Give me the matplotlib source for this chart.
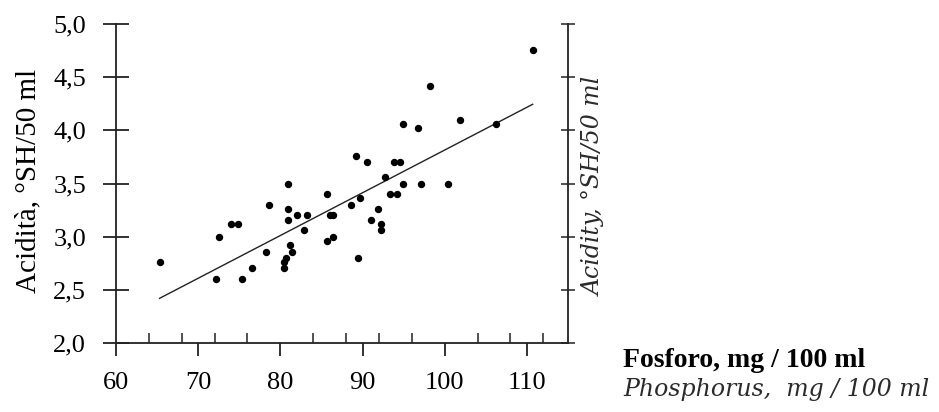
import matplotlib
matplotlib.use("Agg")
import matplotlib.pyplot as plt
from matplotlib.ticker import FixedLocator, MultipleLocator, FuncFormatter

# Data
phosphorus = [65.3, 72.2, 72.5, 74.0, 74.9, 75.3, 76.6, 78.3, 78.6, 80.5,
              80.5, 80.7, 80.9, 80.9, 80.9, 81.2, 81.4, 82.0, 82.9, 83.3,
              85.7, 85.7, 86.0, 86.4, 86.4, 88.6, 89.2, 89.4, 89.7, 90.5,
              91.0, 91.9, 92.3, 92.3, 92.7, 93.3, 93.8, 94.2, 94.6, 94.9,
              94.9, 96.7, 97.1, 98.2, 100.4, 101.9, 106.2, 110.7]
acidity = [2.76, 2.60, 3.00, 3.12, 3.12, 2.60, 2.71, 2.86, 3.30, 2.71,
           2.76, 2.80, 3.50, 3.26, 3.16, 2.92, 2.86, 3.20, 3.06, 3.20,
           3.40, 2.96, 3.20, 3.20, 3.00, 3.30, 3.76, 2.80, 3.36, 3.70,
           3.16, 3.26, 3.12, 3.06, 3.56, 3.40, 3.70, 3.40, 3.70, 4.06,
           3.50, 4.02, 3.50, 4.42, 3.50, 4.10, 4.06, 4.76]
trend_x = [65.3, 110.7]
trend_y = [2.42, 4.245]
x_major_ticks = [60, 70, 80, 90, 100, 110]
y_ticks = [2.0, 2.5, 3.0, 3.5, 4.0, 4.5, 5.0]

plt.rcParams['font.family'] = ['Liberation Serif', 'DejaVu Serif']

fig = plt.figure(figsize=(9.39, 4.12), dpi=100)
ax = fig.add_axes([116/939, 1-343/412, (568-116)/939, (343-24)/412])

ax.plot(trend_x, trend_y, color='#222222', lw=1.0, zorder=2)
ax.plot(phosphorus, acidity, 'o', color='black', ms=4.3, zorder=3)

ax.set_xlim(60, 115)
ax.set_ylim(2.0, 5.0)

ax.spines['top'].set_visible(False)
ax.spines['right'].set_visible(False)
for s in ['left', 'bottom']:
    ax.spines[s].set_linewidth(1.3)
    ax.spines[s].set_color('#222222')

ax.xaxis.set_major_locator(FixedLocator(x_major_ticks))
ax.xaxis.set_minor_locator(MultipleLocator(4))
ax.tick_params(axis='x', which='major', direction='out', length=9, width=1.3,
               color='#222222', labelsize=19, pad=12)
ax.tick_params(axis='x', which='minor', direction='in', length=7, width=1.1,
               color='#222222')

ax.yaxis.set_major_locator(FixedLocator(y_ticks))
ax.yaxis.set_major_formatter(FuncFormatter(lambda v, p: f"{v:.1f}".replace('.', ',')))
ax.tick_params(axis='y', which='major', direction='inout', length=19, width=1.3,
               color='#222222', labelsize=19, pad=12)

fig.text(28/939, 1-181/412, 'Acidità, °SH/50 ml', fontsize=21, rotation=90,
         ha='center', va='center')

# right axis
ax2 = ax.twinx()
ax2.set_ylim(2.0, 5.0)
for s in ['top', 'left', 'bottom']:
    ax2.spines[s].set_visible(False)
ax2.spines['right'].set_linewidth(1.3)
ax2.spines['right'].set_color('#222222')
ax2.yaxis.set_major_locator(FixedLocator(y_ticks))
ax2.tick_params(axis='y', which='major', direction='inout', length=10, width=1.1,
                color='#222222', labelright=False)

fig.text(594/939, 1-186/412, 'Acidity, °SH/50 ml', fontsize=17,
         family=['DejaVu Serif'], style='italic', rotation=90,
         ha='center', va='center', color='#2a2a2a')

fig.text(623/939, 1-367/412, 'Fosforo, mg / 100 ml', fontsize=20,
         fontweight='bold', ha='left', va='baseline')
fig.text(623/939, 1-396/412, 'Phosphorus,  mg / 100 ml', fontsize=17,
         family=['DejaVu Serif'], style='italic', ha='left', va='baseline',
         color='#2a2a2a')

fig.savefig('out.png', dpi=100)
